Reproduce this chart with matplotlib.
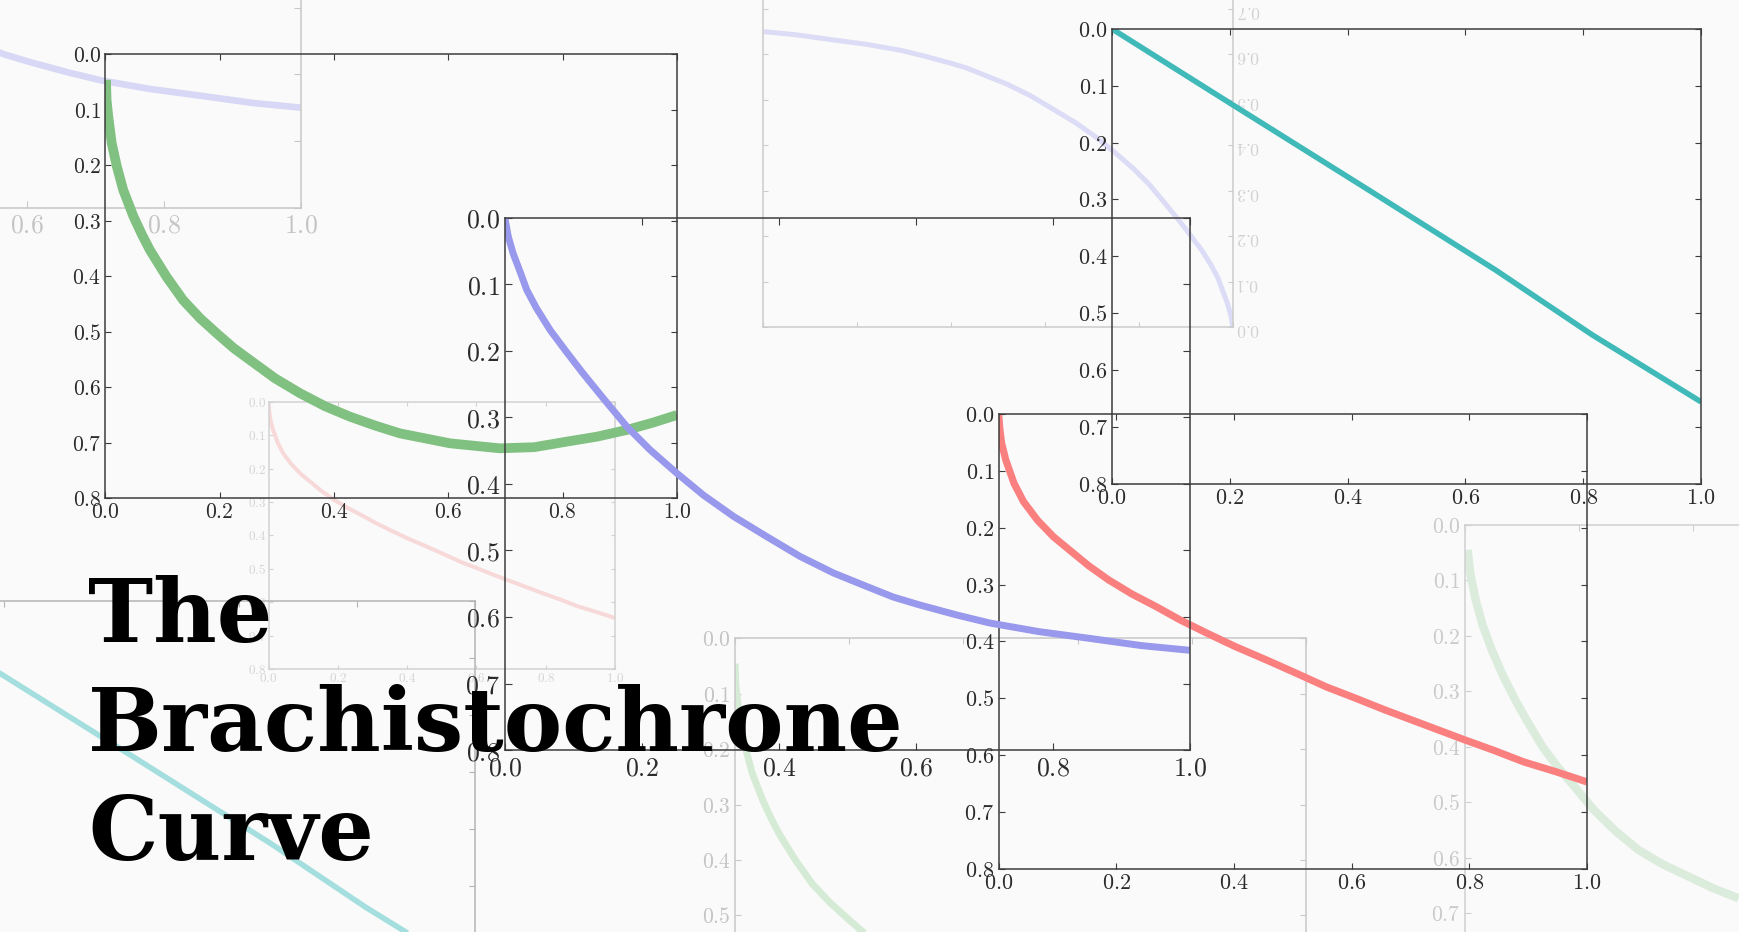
#!/usr/bin/env python3
"""
Collage of brachistochrone solutions: a few sharp plots on top of faded
copies, with the title set over the lower left corner.
"""

import matplotlib
matplotlib.use("Agg")
import matplotlib.pyplot as plt

plt.rcParams["mathtext.fontset"] = "cm"

# curves, each in its own panel's units (y grows downward)
green_x = [0.001, 0.002, 0.005, 0.011, 0.020, 0.031, 0.049, 0.064, 0.078, 0.107,
           0.136, 0.166, 0.195, 0.224, 0.253, 0.297, 0.341, 0.384, 0.428, 0.472,
           0.515, 0.603, 0.690, 0.750, 0.807, 0.860, 0.912, 0.957, 1.0]
green_y = [0.046, 0.082, 0.112, 0.160, 0.202, 0.244, 0.292, 0.325, 0.353, 0.401,
           0.443, 0.476, 0.503, 0.529, 0.551, 0.584, 0.611, 0.634, 0.653, 0.669,
           0.683, 0.701, 0.710, 0.708, 0.698, 0.689, 0.677, 0.664, 0.650]

green_early_x = [0.005, 0.010, 0.019, 0.031, 0.047, 0.066, 0.088, 0.110, 0.136,
                 0.163, 0.192, 0.226, 0.264, 0.304, 0.347, 0.392, 0.435, 0.479]
green_early_y = [0.045, 0.090, 0.135, 0.180, 0.225, 0.270, 0.315, 0.355, 0.400,
                 0.437, 0.472, 0.514, 0.552, 0.586, 0.612, 0.634, 0.655, 0.673]

blue_x = [0.0, 0.005, 0.012, 0.022, 0.032, 0.046, 0.066, 0.090, 0.114, 0.144,
          0.178, 0.212, 0.251, 0.290, 0.334, 0.382, 0.431, 0.480, 0.528, 0.567,
          0.606, 0.660, 0.708, 0.780, 0.853, 0.930, 1.0]
blue_y = [0.001, 0.029, 0.054, 0.081, 0.109, 0.136, 0.169, 0.202, 0.234, 0.272,
          0.314, 0.349, 0.384, 0.417, 0.449, 0.479, 0.509, 0.534, 0.554, 0.570,
          0.582, 0.597, 0.609, 0.622, 0.632, 0.643, 0.650]

red_x = [0.0, 0.002, 0.005, 0.012, 0.026, 0.042, 0.066, 0.093, 0.120, 0.153,
         0.187, 0.227, 0.268, 0.308, 0.355, 0.402, 0.456, 0.506, 0.557, 0.607,
         0.658, 0.725, 0.792, 0.843, 0.893, 0.947, 1.0]
red_y = [0.002, 0.028, 0.052, 0.081, 0.122, 0.154, 0.187, 0.216, 0.239, 0.267,
         0.292, 0.317, 0.339, 0.362, 0.386, 0.409, 0.433, 0.456, 0.480, 0.500,
         0.521, 0.547, 0.573, 0.592, 0.612, 0.629, 0.647]

cyan_x = [0.0, 0.201, 0.426, 0.651, 0.815, 1.0]
cyan_y = [0.0, 0.131, 0.277, 0.424, 0.538, 0.656]

x_ticks = [0.0, 0.2, 0.4, 0.6, 0.8, 1.0]
y_ticks = [0.0, 0.1, 0.2, 0.3, 0.4, 0.5, 0.6, 0.7, 0.8]

title_lines = ["The", "Brachistochrone", "Curve"]

W, H = 1740, 932
S = W / 1568  # panel boxes were measured on a 1568 px wide preview
BG = "#fafafa"
BASE = 15.5   # tick label size for the 515 px wide panels


def panel(fig, box, xs, ys, color, lw, frame="#3c3c3c", text="#2b2b2b",
          z=1, flipped=False):
    left, top, w, h = (v * S for v in box)
    ax = fig.add_axes([left / W, 1 - (top + h) / H, w / W, h / H], zorder=z)
    ax.patch.set_visible(False)
    ax.plot(xs, ys, color=color, lw=lw, solid_capstyle="butt",
            solid_joinstyle="round")

    ax.set_xticks(x_ticks, [f"${t:.1f}$" for t in x_ticks])
    ax.set_yticks(y_ticks, [f"${t:.1f}$" for t in y_ticks])
    k = box[2] / 515  # everything in a copy scales with its width
    ax.tick_params(direction="in", top=True, right=True, length=4.3 * k,
                   width=0.8, color=frame, labelcolor=text,
                   labelsize=BASE * k, pad=3 * k)
    for sp in ax.spines.values():
        sp.set_color(frame)
        sp.set_linewidth(1.1)

    if flipped:
        # same plot turned upside down
        ax.set_xlim(1, 0)
        ax.set_ylim(0, 0.8)
        ax.tick_params(labelleft=False, labelright=True, labelbottom=False,
                       labeltop=True, labelrotation=180)
    else:
        ax.set_xlim(0, 1)
        ax.set_ylim(0.8, 0)
    return ax


def main():
    fig = plt.figure(figsize=(W / 100, H / 100), dpi=100, facecolor=BG)

    # faded copies in the background
    panel(fig, (-346, -293, 617, 480), blue_x, blue_y, "#d8d8f6", 4.8,
          frame="#c8c8c8", text="#c4c4c4", z=0)
    panel(fig, (688, -33, 423, 328), blue_x, blue_y, "#dcdcf6", 3.6,
          frame="#cccccc", text="#d2d2d2", z=0, flipped=True)
    panel(fig, (242, 362, 312, 241), red_x, red_y, "#f8d9d9", 2.9,
          frame="#d2d2d2", text="#d4d4d4", z=0)
    panel(fig, (-103, 542, 531, 410), cyan_x, cyan_y, "#a4dede", 4.0,
          frame="#b4b4b4", text="#c4c4c4", z=0)
    panel(fig, (662, 575, 515, 400), green_x, green_y, "#d6ebd6", 5.0,
          frame="#c8c8c8", text="#c4c4c4", z=0)
    panel(fig, (1320, 473, 515, 400), green_early_x, green_early_y, "#dcecdc",
          6.0, frame="#cfcfcf", text="#cacaca", z=0)

    # sharp plots
    panel(fig, (95, 49, 515, 400), green_x, green_y, "#80c080", 7.0, z=1)
    panel(fig, (1002, 26, 531, 410), cyan_x, cyan_y, "#40b9b9", 4.0, z=2)
    panel(fig, (900, 373, 530, 410), red_x, red_y, "#fa8080", 5.2, z=3)
    panel(fig, (455, 196, 617, 480), blue_x, blue_y, "#9898ec", 5.0, z=4)

    for i, line in enumerate(title_lines):
        fig.text(88 / W, 1 - (642 + 109 * i) / H, line, ha="left", va="baseline",
                 fontsize=63, fontweight="bold", family="DejaVu Serif",
                 color="black", zorder=10)

    fig.savefig("out.png", dpi=100, facecolor=BG)


if __name__ == "__main__":
    main()
